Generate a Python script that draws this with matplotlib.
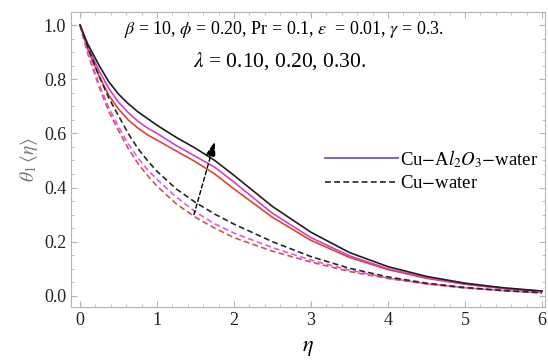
import matplotlib
matplotlib.use('Agg')
import matplotlib.pyplot as plt
from matplotlib.lines import Line2D
from matplotlib.ticker import MultipleLocator

# Dữ liệu
eta = [0, 0.05, 0.1, 0.25, 0.375, 0.5, 0.625, 0.75, 0.875, 1, 1.25, 1.5, 1.75, 2, 2.5, 3, 3.5, 4, 4.5, 5, 5.5, 6]

# Cu-Al2O3-water (nét liền), lambda = 0.10, 0.20, 0.30
hyb_010 = [1, 0.955, 0.91, 0.81, 0.74, 0.69, 0.65, 0.62, 0.595, 0.575, 0.535, 0.495, 0.45, 0.395, 0.29, 0.205, 0.142, 0.097, 0.065, 0.043, 0.027, 0.016]
hyb_020 = [1, 0.96, 0.92, 0.83, 0.765, 0.715, 0.677, 0.645, 0.62, 0.6, 0.555, 0.515, 0.475, 0.42, 0.305, 0.215, 0.148, 0.1, 0.067, 0.044, 0.028, 0.017]
hyb_030 = [1, 0.965, 0.93, 0.85, 0.79, 0.745, 0.71, 0.68, 0.655, 0.63, 0.585, 0.545, 0.5, 0.445, 0.33, 0.235, 0.16, 0.108, 0.072, 0.047, 0.03, 0.018]

# Cu-water (nét đứt)
cu_010 = [1, 0.945, 0.895, 0.77, 0.68, 0.61, 0.545, 0.49, 0.445, 0.405, 0.34, 0.29, 0.25, 0.215, 0.165, 0.125, 0.09, 0.064, 0.044, 0.029, 0.019, 0.011]
cu_020 = [1, 0.95, 0.9, 0.78, 0.695, 0.625, 0.562, 0.51, 0.466, 0.43, 0.365, 0.31, 0.266, 0.232, 0.178, 0.132, 0.095, 0.066, 0.045, 0.03, 0.019, 0.012]
cu_030 = [1, 0.96, 0.92, 0.81, 0.73, 0.665, 0.6, 0.545, 0.5, 0.46, 0.395, 0.345, 0.302, 0.265, 0.2, 0.145, 0.102, 0.07, 0.047, 0.031, 0.02, 0.012]

colors = ['#d9472e', '#d63fc4', '#1e1e1e']
dash_colors = ['#d8504a', '#e05cd2', '#262626']

plt.rcParams['mathtext.fontset'] = 'stix'
plt.rcParams['font.family'] = ['Liberation Serif', 'DejaVu Serif']

fig = plt.figure(figsize=(5.48, 3.6), dpi=100)
ax = fig.add_axes([71 / 548, 1 - 307 / 360, 474 / 548, 295 / 360])

for ys, c in zip([hyb_010, hyb_020, hyb_030], colors):
    ax.plot(eta, ys, color=c, lw=1.2)
for ys, c in zip([cu_010, cu_020, cu_030], dash_colors):
    ax.plot(eta, ys, color=c, lw=1.2, ls=(0, (3.5, 2)))

# Mũi tên chỉ chiều tăng của lambda
ax.annotate('', xy=(1.76, 0.58), xytext=(1.47, 0.29),
            arrowprops=dict(arrowstyle='-|>,head_length=0.9,head_width=0.3',
                            color='black', lw=1.0, ls=(0, (3, 2))))

ax.text(0.45, 0.94, r'$\beta$ = 10, $\phi$ = 0.20, Pr = 0.1, $\epsilon$  = 0.01, $\gamma$ = 0.3.',
        transform=ax.transAxes, ha='center', va='center', fontsize=13)
ax.text(0.44, 0.835, r'$\lambda$ = 0.10, 0.20, 0.30.',
        transform=ax.transAxes, ha='center', va='center', fontsize=15.5)

handles = [Line2D([], [], color='#7a6cc8', lw=1.5),
           Line2D([], [], color='#262626', lw=1.2, ls=(0, (3.5, 2)))]
labels = [r'Cu$-$A$l_2O_3$$-$water', r'Cu$-$water']
ax.legend(handles, labels, loc='center left', bbox_to_anchor=(0.5, 0.464),
          frameon=False, fontsize=13.5, handlelength=3.9, handletextpad=0.1,
          labelspacing=0.3)

ax.set_xlim(-0.117, 6.04)
ax.set_ylim(-0.041, 1.048)
ax.xaxis.set_major_locator(MultipleLocator(1))
ax.xaxis.set_minor_locator(MultipleLocator(0.2))
ax.yaxis.set_major_locator(MultipleLocator(0.2))
ax.yaxis.set_minor_locator(MultipleLocator(0.05))
ax.yaxis.set_major_formatter(plt.FormatStrFormatter('%.1f'))

for s in ax.spines.values():
    s.set_color('#b5b5b5')
    s.set_linewidth(0.8)
ax.tick_params(which='both', direction='in', top=True, right=True, color='#b5b5b5',
               labelsize=13, labelcolor='#222222')
ax.tick_params(which='major', length=4)
ax.tick_params(which='minor', length=2)

ax.set_xlabel(r'$\eta$', fontsize=16, labelpad=7)
ax.set_ylabel(r'$\theta_1\,\langle\eta\rangle$', fontsize=14, color='#777777', labelpad=3)

fig.savefig('out.png', dpi=100)
